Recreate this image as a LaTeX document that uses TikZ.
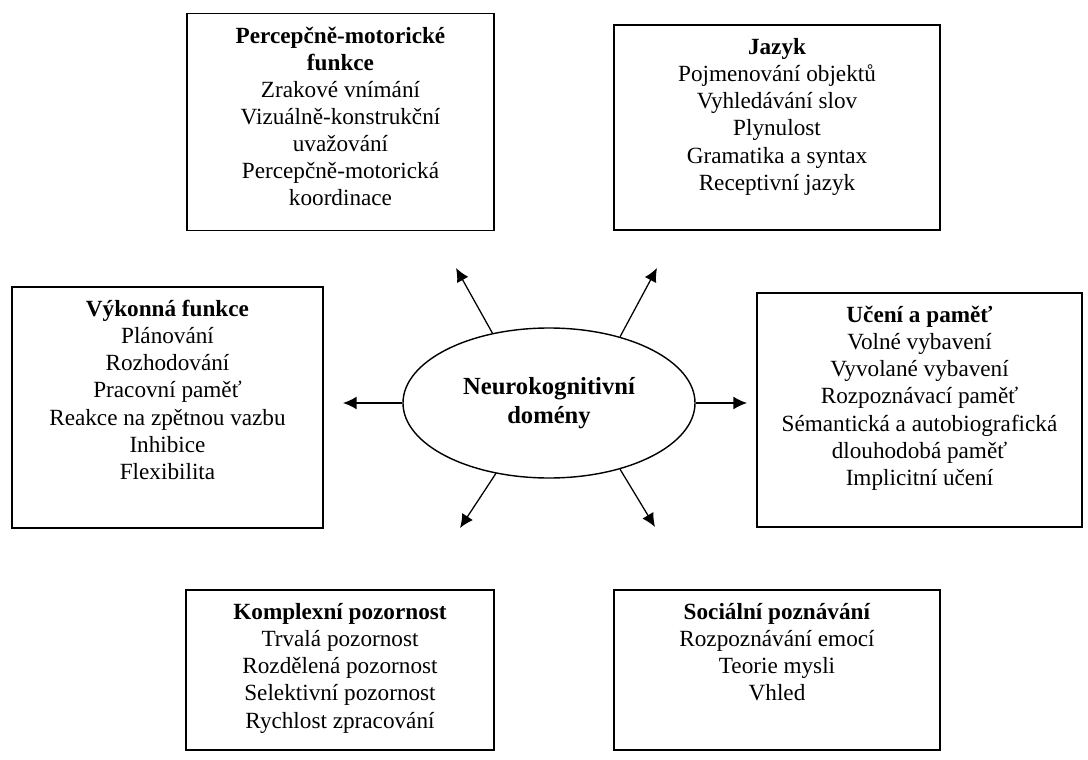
\documentclass[tikz,border=0pt]{standalone}
\usepackage{fontspec}
\setmainfont{Liberation Serif}
\usetikzlibrary{shapes.geometric, arrows.meta}
\tikzset{
  dombox/.style={draw, line width=1pt, inner sep=0pt,
    font=\fontsize{16.5}{19.3}\selectfont},
  hub/.style={draw, ellipse, line width=1pt, minimum width=7.3cm,
    minimum height=3.75cm, align=center,
    font=\fontsize{17.5}{21}\selectfont\bfseries},
  link/.style={->, line width=0.9pt}
}

\begin{document}
\begin{tikzpicture}[>={Latex[width=3.2mm,length=3.4mm]}]
\useasboundingbox (0,0) rectangle (27.2,-19);

\node [hub] (neuro) at (13.725,-10.075) {Neurokognitivní\\domény};

\node [dombox] (percep) at (8.5125,-3.0525) {\parbox[c][5.425cm][t]{7.675cm}{\centering\rule{0pt}{21pt}%
  \textbf{Percepčně-motorické}\\\textbf{funkce}\\Zrakové vnímání\\Vizuálně-konstrukční\\uvažování\\Percepčně-motorická\\koordinace}};
\node [dombox] (jazyk) at (19.425,-3.1875) {\parbox[c][5.125cm][t]{8.15cm}{\centering\rule{0pt}{21pt}%
  \textbf{Jazyk}\\Pojmenování objektů\\Vyhledávání slov\\Plynulost\\Gramatika a syntax\\Receptivní jazyk}};

\node [dombox] (vykon) at (4.1875,-10.1875) {\parbox[c][6.025cm][t]{7.775cm}{\centering\rule{0pt}{21pt}%
  \textbf{Výkonná funkce}\\Plánování\\Rozhodování\\Pracovní paměť\\Reakce na zpětnou vazbu\\Inhibice\\Flexibilita}};
\node [dombox] (pamet) at (22.9875,-10.25) {\parbox[c][5.85cm][t]{8.125cm}{\centering\rule{0pt}{21pt}%
  \textbf{Učení a paměť}\\Volné vybavení\\Vyvolané vybavení\\Rozpoznávací paměť\\Sémantická a autobiografická\\dlouhodobá paměť\\Implicitní učení}};

\node [dombox] (pozor) at (8.5,-16.75) {\parbox[c][4cm][t]{7.7cm}{\centering\rule{0pt}{21pt}%
  \textbf{Komplexní pozornost}\\Trvalá pozornost\\Rozdělená pozornost\\Selektivní pozornost\\Rychlost zpracování}};
\node [dombox] (social) at (19.425,-16.75) {\parbox[c][4cm][t]{8.15cm}{\centering\rule{0pt}{21pt}%
  \textbf{Sociální poznávání}\\Rozpoznávání emocí\\Teorie mysli\\Vhled}};

% arrow tips
\coordinate (ul) at (11.4,-6.7);
\coordinate (ur) at (16.425,-6.7);
\coordinate (le) at (8.575,-10.075);
\coordinate (ri) at (18.675,-10.075);
\coordinate (dl) at (11.5,-13.2);
\coordinate (dr) at (16.375,-13.175);

\draw[link] (neuro.129) -- (ul);
\draw[link] (neuro.43) -- (ur);
\draw[link] (neuro.west) -- (le);
\draw[link] (neuro.east) -- (ri);
\draw[link] (neuro.233) -- (dl);
\draw[link] (neuro.-43) -- (dr);

\end{tikzpicture}
\end{document}
